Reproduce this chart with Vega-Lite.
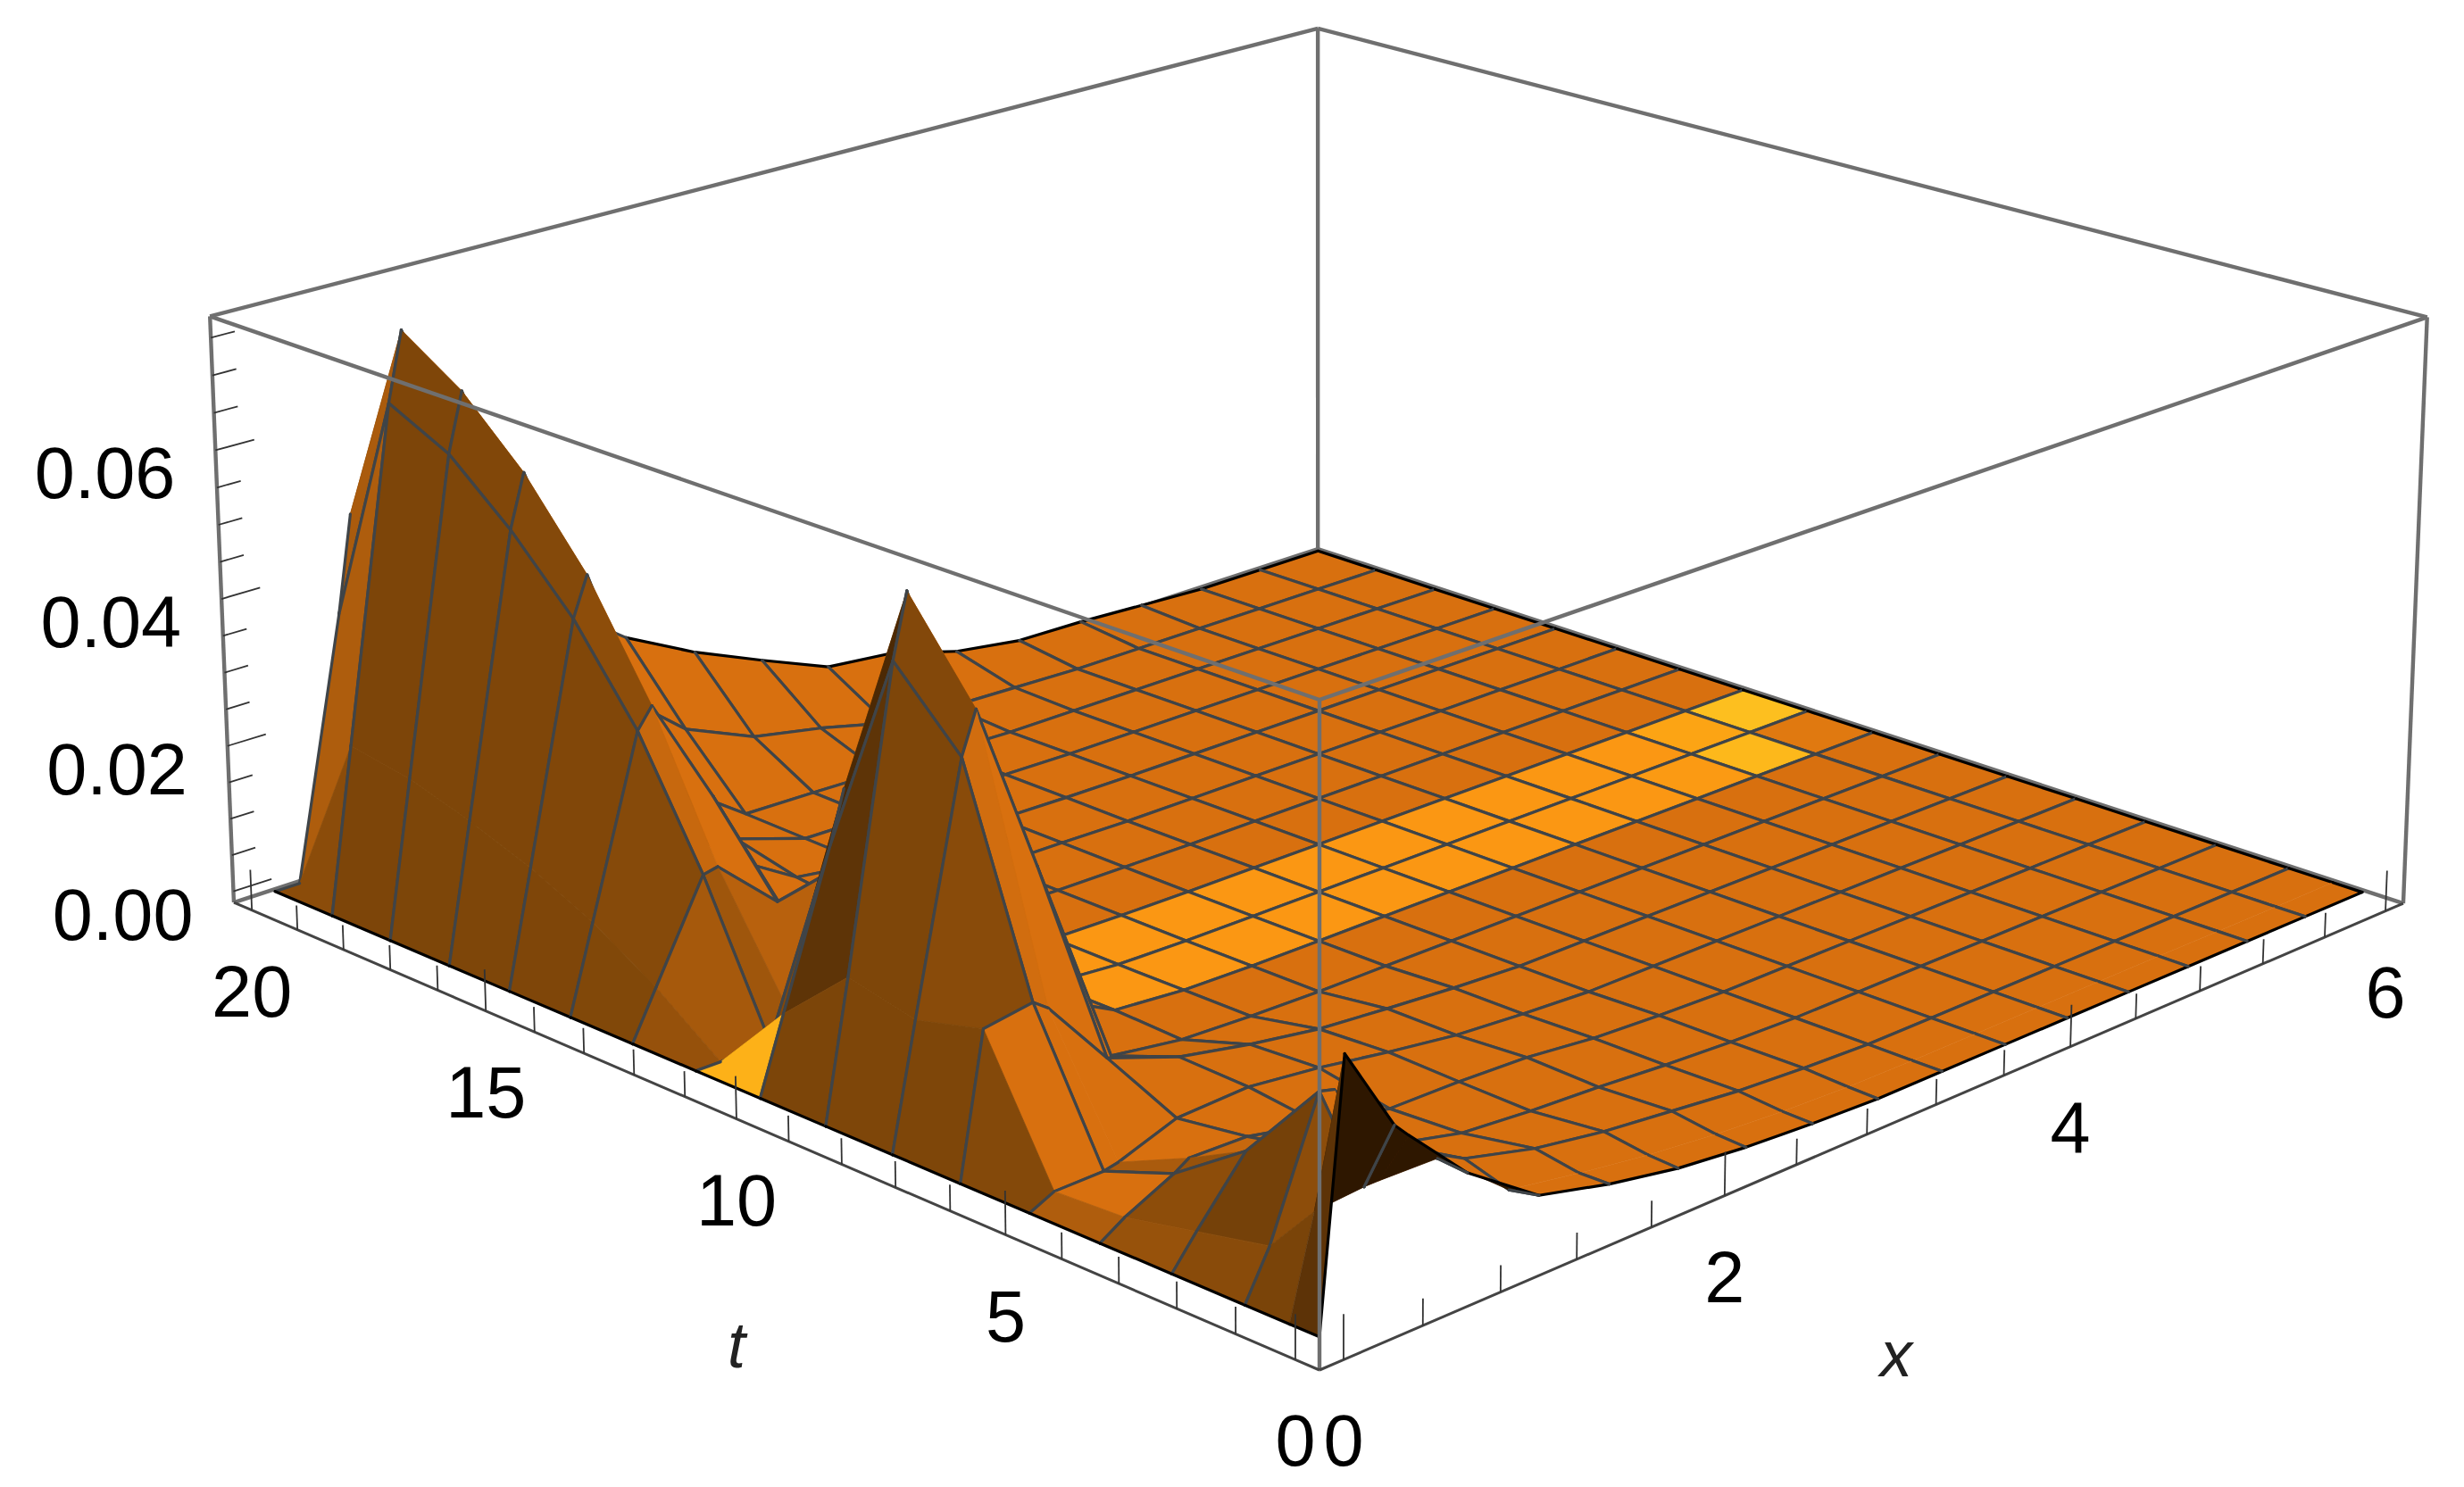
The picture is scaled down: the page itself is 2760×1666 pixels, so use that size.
{"$schema":"https://vega.github.io/schema/vega-lite/v6.json","width":2760,"height":1666,"autosize":{"type":"fit","contains":"padding"},"padding":0,"background":"white","config":{"view":{"stroke":null}},
"datasets":{
"box":[
{"part":"back","a":1,"b":1,"c":1,"d":1,"e":0,"f":1},
{"part":"back","a":1,"b":1,"c":1,"d":0,"e":1,"f":1},
{"part":"back","a":1,"b":1,"c":1,"d":1,"e":1,"f":0},
{"part":"back","a":1,"b":0,"c":0,"d":1,"e":1,"f":0},
{"part":"back","a":0,"b":1,"c":0,"d":1,"e":1,"f":0},
{"part":"front","a":1,"b":0,"c":1,"d":0,"e":0,"f":1},
{"part":"front","a":0,"b":0,"c":1,"d":0,"e":1,"f":1},
{"part":"front","a":0,"b":0,"c":1,"d":0,"e":0,"f":0},
{"part":"front","a":1,"b":0,"c":1,"d":1,"e":0,"f":0},
{"part":"front","a":0,"b":1,"c":1,"d":0,"e":1,"f":0},
{"part":"floor","a":1,"b":0,"c":0,"d":0,"e":0,"f":0},
{"part":"floor","a":0,"b":0,"c":0,"d":0,"e":1,"f":0}],
"ticks":[
{"axis":"t","val":0,"major":true,"label":"0"},{"axis":"t","val":1,"major":false},{"axis":"t","val":2,"major":false},{"axis":"t","val":3,"major":false},{"axis":"t","val":4,"major":false},{"axis":"t","val":5,"major":true,"label":"5"},{"axis":"t","val":6,"major":false},{"axis":"t","val":7,"major":false},{"axis":"t","val":8,"major":false},{"axis":"t","val":9,"major":false},{"axis":"t","val":10,"major":true,"label":"10"},{"axis":"t","val":11,"major":false},{"axis":"t","val":12,"major":false},{"axis":"t","val":13,"major":false},{"axis":"t","val":14,"major":false},{"axis":"t","val":15,"major":true,"label":"15"},{"axis":"t","val":16,"major":false},{"axis":"t","val":17,"major":false},{"axis":"t","val":18,"major":false},{"axis":"t","val":19,"major":false},{"axis":"t","val":20,"major":true,"label":"20"},
{"axis":"x","val":0,"major":true,"label":"0"},{"axis":"x","val":0.4,"major":false},{"axis":"x","val":0.8,"major":false},{"axis":"x","val":1.2,"major":false},{"axis":"x","val":1.6,"major":false},{"axis":"x","val":2,"major":true,"label":"2"},{"axis":"x","val":2.4,"major":false},{"axis":"x","val":2.8,"major":false},{"axis":"x","val":3.2,"major":false},{"axis":"x","val":3.6,"major":false},{"axis":"x","val":4,"major":true,"label":"4"},{"axis":"x","val":4.4,"major":false},{"axis":"x","val":4.8,"major":false},{"axis":"x","val":5.2,"major":false},{"axis":"x","val":5.6,"major":false},{"axis":"x","val":6,"major":true,"label":"6"},
{"axis":"z","val":0,"major":true,"label":"0.00"},{"axis":"z","val":0.005,"major":false},{"axis":"z","val":0.01,"major":false},{"axis":"z","val":0.015,"major":false},{"axis":"z","val":0.02,"major":true,"label":"0.02"},{"axis":"z","val":0.025,"major":false},{"axis":"z","val":0.03,"major":false},{"axis":"z","val":0.035,"major":false},{"axis":"z","val":0.04,"major":true,"label":"0.04"},{"axis":"z","val":0.045,"major":false},{"axis":"z","val":0.05,"major":false},{"axis":"z","val":0.055,"major":false},{"axis":"z","val":0.06,"major":true,"label":"0.06"},{"axis":"z","val":0.065,"major":false},{"axis":"z","val":0.07,"major":false},{"axis":"z","val":0.075,"major":false}],
"surface":[
{"t":20,"x":6,"z":0},{"t":20,"x":5.625,"z":0},{"t":20,"x":5.25,"z":0},{"t":20,"x":4.875,"z":0.0005},{"t":20,"x":4.5,"z":0.001},{"t":20,"x":4.125,"z":0.0012},{"t":20,"x":3.75,"z":0.0026},{"t":20,"x":3.375,"z":0.0054},{"t":20,"x":3,"z":0.0064},{"t":20,"x":2.625,"z":0.0104},{"t":20,"x":2.25,"z":0.0146},{"t":20,"x":1.875,"z":0.0197},{"t":20,"x":1.5,"z":0.027},{"t":20,"x":1.125,"z":0.035},{"t":20,"x":0.75,"z":0.042},{"t":20,"x":0.45,"z":0.048},{"t":20,"x":0.375,"z":0.035},{"t":20,"x":0.125,"z":0},{"t":20,"x":0,"z":0},
{"t":18.75,"x":6,"z":0},{"t":18.75,"x":5.625,"z":0},{"t":18.75,"x":5.25,"z":0},{"t":18.75,"x":4.875,"z":0},{"t":18.75,"x":4.5,"z":0},{"t":18.75,"x":4.125,"z":0},{"t":18.75,"x":3.75,"z":0.0003},{"t":18.75,"x":3.375,"z":0.0006},{"t":18.75,"x":3,"z":0.0013},{"t":18.75,"x":2.625,"z":0.0037},{"t":18.75,"x":2.25,"z":0.0056},{"t":18.75,"x":1.875,"z":0.0098},{"t":18.75,"x":1.5,"z":0.018},{"t":18.75,"x":1.125,"z":0.03},{"t":18.75,"x":0.75,"z":0.055},{"t":18.75,"x":0.45,"z":0.0755},{"t":18.75,"x":0.375,"z":0.0663,"b":0.25},{"t":18.75,"x":0.125,"z":0.0221,"b":0.25},{"t":18.75,"x":0,"z":0,"b":0.1},
{"t":17.5,"x":6,"z":0},{"t":17.5,"x":5.625,"z":0},{"t":17.5,"x":5.25,"z":0},{"t":17.5,"x":4.875,"z":0},{"t":17.5,"x":4.5,"z":0},{"t":17.5,"x":4.125,"z":0},{"t":17.5,"x":3.75,"z":0},{"t":17.5,"x":3.375,"z":0},{"t":17.5,"x":3,"z":0.0003},{"t":17.5,"x":2.625,"z":0.0005},{"t":17.5,"x":2.25,"z":0.0008},{"t":17.5,"x":1.875,"z":0.001},{"t":17.5,"x":1.5,"z":0.008},{"t":17.5,"x":1.125,"z":0.02},{"t":17.5,"x":0.75,"z":0.045},{"t":17.5,"x":0.45,"z":0.0701},{"t":17.5,"x":0.375,"z":0.0623},{"t":17.5,"x":0.125,"z":0.0208},{"t":17.5,"x":0,"z":0},
{"t":16.25,"x":6,"z":0},{"t":16.25,"x":5.625,"z":0},{"t":16.25,"x":5.25,"z":0},{"t":16.25,"x":4.875,"z":0},{"t":16.25,"x":4.5,"z":0},{"t":16.25,"x":4.125,"z":0},{"t":16.25,"x":3.75,"z":0},{"t":16.25,"x":3.375,"z":0},{"t":16.25,"x":3,"z":0.0002},{"t":16.25,"x":2.625,"z":0.0004},{"t":16.25,"x":2.25,"z":0.0006},{"t":16.25,"x":1.875,"z":0.0008},{"t":16.25,"x":1.5,"z":0.004},{"t":16.25,"x":1.125,"z":0.012},{"t":16.25,"x":0.75,"z":0.04},{"t":16.25,"x":0.45,"z":0.0621},{"t":16.25,"x":0.375,"z":0.0551},{"t":16.25,"x":0.125,"z":0.0184},{"t":16.25,"x":0,"z":0},
{"t":15,"x":6,"z":0},{"t":15,"x":5.625,"z":0},{"t":15,"x":5.25,"z":0},{"t":15,"x":4.875,"z":0},{"t":15,"x":4.5,"z":0},{"t":15,"x":4.125,"z":0},{"t":15,"x":3.75,"z":0},{"t":15,"x":3.375,"z":0},{"t":15,"x":3,"z":0.0001},{"t":15,"x":2.625,"z":0.0003},{"t":15,"x":2.25,"z":0.0004},{"t":15,"x":1.875,"z":0.0006},{"t":15,"x":1.5,"z":0.002},{"t":15,"x":1.125,"z":0.008},{"t":15,"x":0.75,"z":0.028},{"t":15,"x":0.45,"z":0.0515},{"t":15,"x":0.375,"z":0.0463},{"t":15,"x":0.125,"z":0.0154},{"t":15,"x":0,"z":0},
{"t":13.75,"x":6,"z":0},{"t":13.75,"x":5.625,"z":0},{"t":13.75,"x":5.25,"z":0},{"t":13.75,"x":4.875,"z":0},{"t":13.75,"x":4.5,"z":0},{"t":13.75,"x":4.125,"z":0},{"t":13.75,"x":3.75,"z":0},{"t":13.75,"x":3.375,"z":0},{"t":13.75,"x":3,"z":0},{"t":13.75,"x":2.625,"z":0.0002},{"t":13.75,"x":2.25,"z":0.0003},{"t":13.75,"x":1.875,"z":0.0005},{"t":13.75,"x":1.5,"z":0.001},{"t":13.75,"x":1.125,"z":0.0033},{"t":13.75,"x":0.75,"z":0.0228},{"t":13.75,"x":0.45,"z":0.0373},{"t":13.75,"x":0.375,"z":0.0346},{"t":13.75,"x":0.125,"z":0.0115},{"t":13.75,"x":0,"z":0},
{"t":12.5,"x":6,"z":0},{"t":12.5,"x":5.625,"z":0},{"t":12.5,"x":5.25,"z":0},{"t":12.5,"x":4.875,"z":0},{"t":12.5,"x":4.5,"z":0},{"t":12.5,"x":4.125,"z":0},{"t":12.5,"x":3.75,"z":0},{"t":12.5,"x":3.375,"z":0},{"t":12.5,"x":3,"z":0},{"t":12.5,"x":2.625,"z":0.0001},{"t":12.5,"x":2.25,"z":0.0002},{"t":12.5,"x":1.875,"z":0.0004},{"t":12.5,"x":1.5,"z":0.001},{"t":12.5,"x":1.125,"z":0.003},{"t":12.5,"x":0.75,"z":0.012},{"t":12.5,"x":0.45,"z":0.0193},{"t":12.5,"x":0.375,"z":0.0189},{"t":12.5,"x":0.125,"z":0.0063},{"t":12.5,"x":0,"z":0},
{"t":11.25,"x":6,"z":0},{"t":11.25,"x":5.625,"z":0},{"t":11.25,"x":5.25,"z":0},{"t":11.25,"x":4.875,"z":0},{"t":11.25,"x":4.5,"z":0},{"t":11.25,"x":4.125,"z":0},{"t":11.25,"x":3.75,"z":0},{"t":11.25,"x":3.375,"z":0},{"t":11.25,"x":3,"z":0},{"t":11.25,"x":2.625,"z":0},{"t":11.25,"x":2.25,"z":0.0001},{"t":11.25,"x":1.875,"z":0.0003},{"t":11.25,"x":1.5,"z":0.001},{"t":11.25,"x":1.125,"z":0.002},{"t":11.25,"x":0.75,"z":0.02},{"t":11.25,"x":0.45,"z":0.005},{"t":11.25,"x":0.375,"z":0.0003},{"t":11.25,"x":0.125,"z":0},{"t":11.25,"x":0,"z":0},
{"t":10,"x":6,"z":0},{"t":10,"x":5.625,"z":0,"b":0.33},{"t":10,"x":5.25,"z":0,"b":0.22},{"t":10,"x":4.875,"z":0,"b":0.17},{"t":10,"x":4.5,"z":0,"b":0.17},{"t":10,"x":4.125,"z":0,"b":0.17},{"t":10,"x":3.75,"z":0,"b":0.17},{"t":10,"x":3.375,"z":0,"b":0.17},{"t":10,"x":3,"z":0,"b":0.17},{"t":10,"x":2.625,"z":0,"b":0.17},{"t":10,"x":2.25,"z":0,"b":0.17},{"t":10,"x":1.875,"z":0.0002,"b":0.17},{"t":10,"x":1.5,"z":0.001,"b":0.17},{"t":10,"x":1.125,"z":0.004},{"t":10,"x":0.75,"z":0.03},{"t":10,"x":0.45,"z":0.036},{"t":10,"x":0.375,"z":0.0293},{"t":10,"x":0.125,"z":0.0098,"b":0.15},{"t":10,"x":0,"z":0,"b":0.5},
{"t":8.75,"x":6,"z":0},{"t":8.75,"x":5.625,"z":0,"b":0.04},{"t":8.75,"x":5.25,"z":0,"b":0.3},{"t":8.75,"x":4.875,"z":0,"b":0.18},{"t":8.75,"x":4.5,"z":0,"b":0.17},{"t":8.75,"x":4.125,"z":0,"b":0.17},{"t":8.75,"x":3.75,"z":0,"b":0.17},{"t":8.75,"x":3.375,"z":0,"b":0.17},{"t":8.75,"x":3,"z":0,"b":0.17},{"t":8.75,"x":2.625,"z":0,"b":0.17},{"t":8.75,"x":2.25,"z":0,"b":0.17},{"t":8.75,"x":1.875,"z":0.0002,"b":0.17},{"t":8.75,"x":1.5,"z":0.001,"b":0.17},{"t":8.75,"x":1.125,"z":0.006},{"t":8.75,"x":0.75,"z":0.035},{"t":8.75,"x":0.45,"z":0.0642},{"t":8.75,"x":0.375,"z":0.056},{"t":8.75,"x":0.125,"z":0.018},{"t":8.75,"x":0,"z":0},
{"t":7.5,"x":6,"z":0},{"t":7.5,"x":5.625,"z":0},{"t":7.5,"x":5.25,"z":0},{"t":7.5,"x":4.875,"z":0},{"t":7.5,"x":4.5,"z":0},{"t":7.5,"x":4.125,"z":0},{"t":7.5,"x":3.75,"z":0},{"t":7.5,"x":3.375,"z":0},{"t":7.5,"x":3,"z":0},{"t":7.5,"x":2.625,"z":0},{"t":7.5,"x":2.25,"z":0},{"t":7.5,"x":1.875,"z":0.0002},{"t":7.5,"x":1.5,"z":0.0006},{"t":7.5,"x":1.125,"z":0.002},{"t":7.5,"x":0.75,"z":0.03},{"t":7.5,"x":0.45,"z":0.0524},{"t":7.5,"x":0.375,"z":0.047},{"t":7.5,"x":0.125,"z":0.016},{"t":7.5,"x":0,"z":0},
{"t":6.25,"x":6,"z":0},{"t":6.25,"x":5.625,"z":0},{"t":6.25,"x":5.25,"z":0},{"t":6.25,"x":4.875,"z":0},{"t":6.25,"x":4.5,"z":0},{"t":6.25,"x":4.125,"z":0},{"t":6.25,"x":3.75,"z":0},{"t":6.25,"x":3.375,"z":0},{"t":6.25,"x":3,"z":0},{"t":6.25,"x":2.625,"z":0.0005},{"t":6.25,"x":2.25,"z":0.0012},{"t":6.25,"x":1.875,"z":0.002},{"t":6.25,"x":1.5,"z":0.0035},{"t":6.25,"x":1.125,"z":0.0054},{"t":6.25,"x":0.75,"z":0.0088},{"t":6.25,"x":0.45,"z":0.018},{"t":6.25,"x":0.375,"z":0.0194},{"t":6.25,"x":0.125,"z":0.0184},{"t":6.25,"x":0,"z":0},
{"t":5,"x":6,"z":0},{"t":5,"x":5.625,"z":0},{"t":5,"x":5.25,"z":0},{"t":5,"x":4.875,"z":0},{"t":5,"x":4.5,"z":0},{"t":5,"x":4.125,"z":0},{"t":5,"x":3.75,"z":0},{"t":5,"x":3.375,"z":0},{"t":5,"x":3,"z":0},{"t":5,"x":2.625,"z":0.0005},{"t":5,"x":2.25,"z":0.0012},{"t":5,"x":1.875,"z":0.0025},{"t":5,"x":1.5,"z":0.004},{"t":5,"x":1.125,"z":0.0051},{"t":5,"x":0.75,"z":0.0047},{"t":5,"x":0.45,"z":0.002},{"t":5,"x":0.375,"z":0.0016},{"t":5,"x":0.125,"z":0.0015},{"t":5,"x":0,"z":0},
{"t":3.75,"x":6,"z":0},{"t":3.75,"x":5.625,"z":0},{"t":3.75,"x":5.25,"z":0},{"t":3.75,"x":4.875,"z":0},{"t":3.75,"x":4.5,"z":0},{"t":3.75,"x":4.125,"z":0},{"t":3.75,"x":3.75,"z":0},{"t":3.75,"x":3.375,"z":0},{"t":3.75,"x":3,"z":0.0003},{"t":3.75,"x":2.625,"z":0.0008},{"t":3.75,"x":2.25,"z":0.0018},{"t":3.75,"x":1.875,"z":0.0022},{"t":3.75,"x":1.5,"z":0.0023},{"t":3.75,"x":1.125,"z":0.004},{"t":3.75,"x":0.75,"z":0.006},{"t":3.75,"x":0.45,"z":0.0062},{"t":3.75,"x":0.375,"z":0.005},{"t":3.75,"x":0.125,"z":0.002},{"t":3.75,"x":0,"z":0},
{"t":2.5,"x":6,"z":0},{"t":2.5,"x":5.625,"z":0},{"t":2.5,"x":5.25,"z":0},{"t":2.5,"x":4.875,"z":0},{"t":2.5,"x":4.5,"z":0},{"t":2.5,"x":4.125,"z":0},{"t":2.5,"x":3.75,"z":0},{"t":2.5,"x":3.375,"z":0},{"t":2.5,"x":3,"z":0.0003},{"t":2.5,"x":2.625,"z":0.0008},{"t":2.5,"x":2.25,"z":0.0015},{"t":2.5,"x":1.875,"z":0.002},{"t":2.5,"x":1.5,"z":0.0028},{"t":2.5,"x":1.125,"z":0.005},{"t":2.5,"x":0.75,"z":0.008},{"t":2.5,"x":0.45,"z":0.011},{"t":2.5,"x":0.375,"z":0.0115},{"t":2.5,"x":0.125,"z":0.004},{"t":2.5,"x":0,"z":0},
{"t":1.25,"x":6,"z":0},{"t":1.25,"x":5.625,"z":0},{"t":1.25,"x":5.25,"z":0},{"t":1.25,"x":4.875,"z":0},{"t":1.25,"x":4.5,"z":0},{"t":1.25,"x":4.125,"z":0},{"t":1.25,"x":3.75,"z":0},{"t":1.25,"x":3.375,"z":0},{"t":1.25,"x":3,"z":0.0004},{"t":1.25,"x":2.625,"z":0.001},{"t":1.25,"x":2.25,"z":0.002},{"t":1.25,"x":1.875,"z":0.003},{"t":1.25,"x":1.5,"z":0.0045},{"t":1.25,"x":1.125,"z":0.0069},{"t":1.25,"x":0.75,"z":0.012},{"t":1.25,"x":0.45,"z":0.022},{"t":1.25,"x":0.375,"z":0.0225},{"t":1.25,"x":0.125,"z":0.006},{"t":1.25,"x":0,"z":0},
{"t":0.5,"x":6,"z":0},{"t":0.5,"x":5.625,"z":0},{"t":0.5,"x":5.25,"z":0},{"t":0.5,"x":4.875,"z":0},{"t":0.5,"x":4.5,"z":0},{"t":0.5,"x":4.125,"z":0},{"t":0.5,"x":3.75,"z":0},{"t":0.5,"x":3.375,"z":0},{"t":0.5,"x":3,"z":0.0001},{"t":0.5,"x":2.625,"z":0.0005},{"t":0.5,"x":2.25,"z":0.0012},{"t":0.5,"x":1.875,"z":0.0022},{"t":0.5,"x":1.5,"z":0.0036},{"t":0.5,"x":1.125,"z":0.0052},{"t":0.5,"x":0.75,"z":0.0128},{"t":0.5,"x":0.45,"z":0.013},{"t":0.5,"x":0.375,"z":0.013},{"t":0.5,"x":0.125,"z":0.0125},{"t":0.5,"x":0,"z":0},
{"t":0,"x":6,"z":0},{"t":0,"x":5.625,"z":0},{"t":0,"x":5.25,"z":0},{"t":0,"x":4.875,"z":0},{"t":0,"x":4.5,"z":0},{"t":0,"x":4.125,"z":0},{"t":0,"x":3.75,"z":0},{"t":0,"x":3.375,"z":0},{"t":0,"x":3,"z":0},{"t":0,"x":2.625,"z":0.0004},{"t":0,"x":2.25,"z":0.001},{"t":0,"x":1.875,"z":0.002},{"t":0,"x":1.5,"z":0.0037},{"t":0,"x":1.125,"z":0.006},{"t":0,"x":0.75,"z":0.0125,"b":-0.6},{"t":0,"x":0.45,"z":0.02,"b":-0.6},{"t":0,"x":0.375,"z":0.022,"b":-0.6},{"t":0,"x":0.125,"z":0.033,"b":-0.6},{"t":0,"x":0,"z":0}
]},
"layer":[
{"data":{"name":"box"},"transform":[{"filter":"datum.part=='back'"},
{"calculate":"1478+(-1410.6*datum.a+1408.2*datum.b)/(1+0.16*datum.a+0.16*datum.b-0.025*datum.c)","as":"X"},
{"calculate":"(1535-362.2*datum.a-361*datum.b-770.6*datum.c)/(1+0.16*datum.a+0.16*datum.b-0.025*datum.c)","as":"Y"},
{"calculate":"1478+(-1410.6*datum.d+1408.2*datum.e)/(1+0.16*datum.d+0.16*datum.e-0.025*datum.f)","as":"X2"},
{"calculate":"(1535-362.2*datum.d-361*datum.e-770.6*datum.f)/(1+0.16*datum.d+0.16*datum.e-0.025*datum.f)","as":"Y2"}],
"mark":{"type":"rule","color":"#6f6f6f","strokeWidth":4.4},
"encoding":{"x":{"field":"X","type":"quantitative","scale":{"domain":[0,2760],"nice":false,"zero":false},"axis":null},"y":{"field":"Y","type":"quantitative","scale":{"domain":[1666,0],"nice":false,"zero":false},"axis":null},"x2":{"field":"X2"},"y2":{"field":"Y2"}}},
{"data":{"name":"surface"},"transform":[
{"window":[{"op":"lead","field":"x","as":"x1"},{"op":"lead","field":"z","as":"zx"}],"groupby":["t"],"sort":[{"field":"x","order":"ascending"}]},
{"window":[{"op":"lead","field":"t","as":"t1"},{"op":"lead","field":"z","as":"zt"},{"op":"lead","field":"zx","as":"ztx"}],"groupby":["x"],"sort":[{"field":"t","order":"ascending"}]},
{"filter":"isValid(datum.t1)&&isValid(datum.x1)"},
{"calculate":"6.3*((datum.zt+datum.ztx)-(datum.z+datum.zx))/((datum.t1-datum.t)*0.04808)","as":"p0"},
{"calculate":"6.3*((datum.zx+datum.ztx)-(datum.z+datum.zt))/((datum.x1-datum.x)*0.1603)","as":"q0"},
{"calculate":"datum.p0<0?min(datum.p0+0.6,0):0.2*max(datum.p0-0.6,0)","as":"p"},
{"calculate":"datum.q0>0?max(datum.q0-0.6,0):min(datum.q0+0.6,0)","as":"q"},
{"calculate":"min(0.5+(0.25*datum.p-0.12*datum.q+0.12)/sqrt(1+datum.p*datum.p+datum.q*datum.q),0.62)+(isValid(datum.b)?datum.b:0)","as":"shade"},
{"calculate":"datum.z","as":"a1"},{"calculate":"datum.zt","as":"a2"},{"calculate":"datum.ztx","as":"a3"},{"calculate":"datum.zx","as":"a4"},
{"calculate":"datum.z","as":"e1"},{"calculate":"datum.zx","as":"e2"},{"calculate":"datum.zt","as":"g1"},{"calculate":"datum.ztx","as":"g2"},
{"calculate":"datum.z","as":"f1"},{"calculate":"datum.zt","as":"f2"},{"calculate":"datum.zx","as":"h1"},{"calculate":"datum.ztx","as":"h2"},
{"fold":["a1","a2","a3","a4","e1","e2","g1","g2","f1","f2","h1","h2"],"as":["corner","h"]},
{"calculate":"substring(datum.corner,0,1)","as":"kind"},
{"calculate":"indexof(['a1','a2','a3','a4','e1','e2','g1','g2','f1','f2','h1','h2'],datum.corner)","as":"seq"},
{"calculate":"indexof(['a2','a3','f2','h2','g1','g2'],datum.corner)>=0?datum.t1:datum.t","as":"tv"},
{"calculate":"indexof(['a3','a4','e2','g2','h1','h2'],datum.corner)>=0?datum.x1:datum.x","as":"xv"},
{"calculate":"datum.kind=='g'?datum.t1:datum.t","as":"et"},
{"calculate":"datum.kind=='h'?datum.x1:datum.x","as":"ex"},
{"calculate":"0.0192+0.04808*datum.tv","as":"us"},{"calculate":"0.0192+0.1603*datum.xv","as":"vs"},{"calculate":"0.0192+12.6*datum.h","as":"ws"},
{"calculate":"1478+(-1410.6*datum.us+1408.2*datum.vs)/(1+0.16*datum.us+0.16*datum.vs-0.025*datum.ws)","as":"X"},
{"calculate":"(1535-362.2*datum.us-361*datum.vs-770.6*datum.ws)/(1+0.16*datum.us+0.16*datum.vs-0.025*datum.ws)","as":"Y"},
{"calculate":"datum.t+'|'+datum.x+'|'+datum.kind","as":"gid"},
{"calculate":"datum.kind=='a'?'face':(((datum.kind=='e'||datum.kind=='g')&&(datum.et==0||(datum.et==20&&datum.x>=1.875)))||((datum.kind=='f'||datum.kind=='h')&&(datum.ex==0||datum.ex==6))?'edge':(((datum.kind=='e'||datum.kind=='g')&&abs(datum.et/1.25-round(datum.et/1.25))<0.001)||((datum.kind=='f'||datum.kind=='h')&&abs(datum.ex/0.375-round(datum.ex/0.375))<0.001)?'mesh':'none'))","as":"ink"}],
"mark":{"type":"line","strokeJoin":"round","strokeCap":"round","interpolate":"linear","clip":false},
"encoding":{
"x":{"field":"X","type":"quantitative","scale":{"domain":[0,2760],"nice":false,"zero":false},"axis":null},
"y":{"field":"Y","type":"quantitative","scale":{"domain":[1666,0],"nice":false,"zero":false},"axis":null},
"detail":{"field":"gid"},
"order":{"field":"seq","type":"quantitative"},
"fill":{"condition":{"test":"datum.kind!='a'","value":"transparent"},"field":"shade","type":"quantitative","legend":null,"scale":{"domain":[0,0.24,0.38,0.55,0.62,0.79,0.95],"range":["#2e1700","#3f2200","#7a4409","#ad5c0d","#d8700f","#fb9713","#fdbf1f"],"clamp":true}},
"stroke":{"condition":[{"test":"datum.ink=='edge'","value":"#000000"},{"test":"datum.ink=='mesh'","value":"#3f4448"},{"test":"datum.ink=='none'","value":"transparent"}],"field":"shade","type":"quantitative","legend":null,"scale":{"domain":[0,0.24,0.38,0.55,0.62,0.79,0.95],"range":["#2e1700","#3f2200","#7a4409","#ad5c0d","#d8700f","#fb9713","#fdbf1f"],"clamp":true}},
"strokeWidth":{"condition":{"test":"datum.ink=='face'","value":0.8},"value":3.2}}},
{"data":{"name":"box"},"transform":[{"filter":"datum.part=='front'"},
{"calculate":"1478+(-1410.6*datum.a+1408.2*datum.b)/(1+0.16*datum.a+0.16*datum.b-0.025*datum.c)","as":"X"},
{"calculate":"(1535-362.2*datum.a-361*datum.b-770.6*datum.c)/(1+0.16*datum.a+0.16*datum.b-0.025*datum.c)","as":"Y"},
{"calculate":"1478+(-1410.6*datum.d+1408.2*datum.e)/(1+0.16*datum.d+0.16*datum.e-0.025*datum.f)","as":"X2"},
{"calculate":"(1535-362.2*datum.d-361*datum.e-770.6*datum.f)/(1+0.16*datum.d+0.16*datum.e-0.025*datum.f)","as":"Y2"}],
"mark":{"type":"rule","color":"#6f6f6f","strokeWidth":4.4},
"encoding":{"x":{"field":"X","type":"quantitative","scale":{"domain":[0,2760],"nice":false,"zero":false},"axis":null},"y":{"field":"Y","type":"quantitative","scale":{"domain":[1666,0],"nice":false,"zero":false},"axis":null},"x2":{"field":"X2"},"y2":{"field":"Y2"}}},
{"data":{"name":"box"},"transform":[{"filter":"datum.part=='floor'"},
{"calculate":"1478+(-1410.6*datum.a+1408.2*datum.b)/(1+0.16*datum.a+0.16*datum.b-0.025*datum.c)","as":"X"},
{"calculate":"(1535-362.2*datum.a-361*datum.b-770.6*datum.c)/(1+0.16*datum.a+0.16*datum.b-0.025*datum.c)","as":"Y"},
{"calculate":"1478+(-1410.6*datum.d+1408.2*datum.e)/(1+0.16*datum.d+0.16*datum.e-0.025*datum.f)","as":"X2"},
{"calculate":"(1535-362.2*datum.d-361*datum.e-770.6*datum.f)/(1+0.16*datum.d+0.16*datum.e-0.025*datum.f)","as":"Y2"}],
"mark":{"type":"rule","color":"#444444","strokeWidth":3},
"encoding":{"x":{"field":"X","type":"quantitative","scale":{"domain":[0,2760],"nice":false,"zero":false},"axis":null},"y":{"field":"Y","type":"quantitative","scale":{"domain":[1666,0],"nice":false,"zero":false},"axis":null},"x2":{"field":"X2"},"y2":{"field":"Y2"}}},
{"data":{"name":"ticks"},"transform":[
{"calculate":"datum.axis=='t'?0.0192+0.04808*datum.val:(datum.axis=='x'?0:1)","as":"a"},
{"calculate":"datum.axis=='x'?0.0192+0.1603*datum.val:0","as":"b"},
{"calculate":"datum.axis=='z'?0.0192+12.6*datum.val:0","as":"c"},
{"calculate":"datum.a","as":"d"},
{"calculate":"datum.axis=='z'?(datum.major?0.031:0.019):datum.b","as":"e"},
{"calculate":"datum.axis=='z'?datum.c:(datum.major?0.07:0.042)","as":"f"},
{"calculate":"1478+(-1410.6*datum.a+1408.2*datum.b)/(1+0.16*datum.a+0.16*datum.b-0.025*datum.c)","as":"X"},
{"calculate":"(1535-362.2*datum.a-361*datum.b-770.6*datum.c)/(1+0.16*datum.a+0.16*datum.b-0.025*datum.c)","as":"Y"},
{"calculate":"1478+(-1410.6*datum.d+1408.2*datum.e)/(1+0.16*datum.d+0.16*datum.e-0.025*datum.f)","as":"X2"},
{"calculate":"(1535-362.2*datum.d-361*datum.e-770.6*datum.f)/(1+0.16*datum.d+0.16*datum.e-0.025*datum.f)","as":"Y2"}],
"mark":{"type":"rule","color":"#333333","strokeWidth":1.8},
"encoding":{"x":{"field":"X","type":"quantitative","scale":{"domain":[0,2760],"nice":false,"zero":false},"axis":null},"y":{"field":"Y","type":"quantitative","scale":{"domain":[1666,0],"nice":false,"zero":false},"axis":null},"x2":{"field":"X2"},"y2":{"field":"Y2"}}},
{"data":{"name":"ticks"},"transform":[{"filter":"datum.major&&datum.axis!='z'"},
{"calculate":"datum.axis=='t'?0.0192+0.04808*datum.val:0","as":"a"},
{"calculate":"datum.axis=='x'?0.0192+0.1603*datum.val:0","as":"b"},
{"calculate":"1478+(-1410.6*datum.a+1408.2*datum.b)/(1+0.16*datum.a+0.16*datum.b)","as":"X"},
{"calculate":"(1535-362.2*datum.a-361*datum.b)/(1+0.16*datum.a+0.16*datum.b)","as":"Y"}],
"mark":{"type":"text","font":"Liberation Sans","fontSize":81,"color":"#000000","dy":95,"align":"center","baseline":"middle"},
"encoding":{"x":{"field":"X","type":"quantitative","scale":{"domain":[0,2760],"nice":false,"zero":false},"axis":null},"y":{"field":"Y","type":"quantitative","scale":{"domain":[1666,0],"nice":false,"zero":false},"axis":null},"text":{"field":"label"}}},
{"data":{"name":"ticks"},"transform":[{"filter":"datum.major&&datum.axis=='z'"},
{"calculate":"0.0192+12.6*datum.val","as":"c"},
{"calculate":"1478-1410.6/(1.16-0.025*datum.c)","as":"X"},
{"calculate":"(1172.8-770.6*datum.c)/(1.16-0.025*datum.c)","as":"Y"}],
"mark":{"type":"text","font":"Liberation Sans","fontSize":81,"color":"#000000","dx":-45,"dy":30,"align":"right","baseline":"middle"},
"encoding":{"x":{"field":"X","type":"quantitative","scale":{"domain":[0,2760],"nice":false,"zero":false},"axis":null},"y":{"field":"Y","type":"quantitative","scale":{"domain":[1666,0],"nice":false,"zero":false},"axis":null},"text":{"field":"label"}}},
{"data":{"values":[{"axis":"t","val":10,"label":"t"}]},"transform":[
{"calculate":"0.0192+0.04808*datum.val","as":"a"},
{"calculate":"1478+(-1410.6*datum.a)/(1+0.16*datum.a)","as":"X"},
{"calculate":"(1535-362.2*datum.a)/(1+0.16*datum.a)","as":"Y"}],
"mark":{"type":"text","font":"Liberation Sans","fontStyle":"italic","fontSize":72,"color":"#222222","dy":256,"align":"center","baseline":"middle"},
"encoding":{"x":{"field":"X","type":"quantitative","scale":{"domain":[0,2760],"nice":false,"zero":false},"axis":null},"y":{"field":"Y","type":"quantitative","scale":{"domain":[1666,0],"nice":false,"zero":false},"axis":null},"text":{"field":"label"}}},
{"data":{"values":[{"axis":"x","val":3,"label":"x"}]},"transform":[
{"calculate":"0.0192+0.1603*datum.val","as":"b"},
{"calculate":"1478+(1408.2*datum.b)/(1+0.16*datum.b)","as":"X"},
{"calculate":"(1535-361*datum.b)/(1+0.16*datum.b)","as":"Y"}],
"mark":{"type":"text","font":"Liberation Sans","fontStyle":"italic","fontSize":72,"color":"#222222","dx":-6,"dy":266,"align":"center","baseline":"middle"},
"encoding":{"x":{"field":"X","type":"quantitative","scale":{"domain":[0,2760],"nice":false,"zero":false},"axis":null},"y":{"field":"Y","type":"quantitative","scale":{"domain":[1666,0],"nice":false,"zero":false},"axis":null},"text":{"field":"label"}}}
],
"resolve":{"scale":{"fill":"independent","stroke":"independent"}}}
